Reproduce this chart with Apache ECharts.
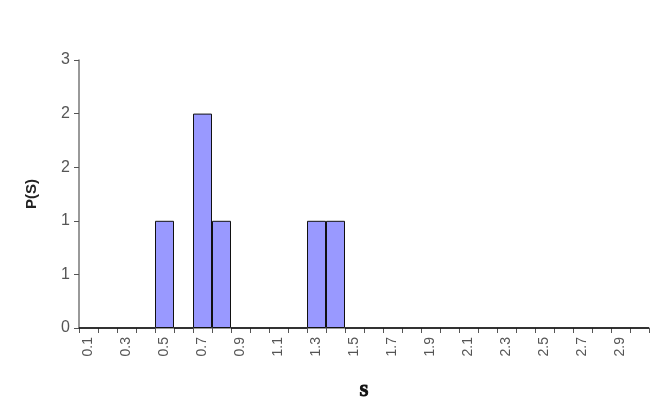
<!DOCTYPE html>
<html><head><meta charset="utf-8">
<script src="https://cdn.jsdelivr.net/npm/echarts@6/dist/echarts.min.js"></script>
<style>html,body{margin:0;padding:0;background:#fff}#c{width:664px;height:418px}</style>
</head><body><div id="c"></div>
<script>
var categories = ['0.1','0.2','0.3','0.4','0.5','0.6','0.7','0.8','0.9','1','1.1','1.2','1.3','1.4','1.5','1.6','1.7','1.8','1.9','2','2.1','2.2','2.3','2.4','2.5','2.6','2.7','2.8','2.9','3'];
var values = [0,0,0,0,1,0,2,1,0,0,0,0,1,1,0,0,0,0,0,0,0,0,0,0,0,0,0,0,0,0];
var chart = echarts.init(document.getElementById('c'));
chart.setOption({
  animation:false,
  backgroundColor:'#fff',
  grid:{left:79,top:60,right:15,bottom:90,containLabel:false},
  xAxis:{
    type:'category', data:categories, boundaryGap:true,
    name:'S', nameLocation:'middle', nameGap:56,
    nameTextStyle:{fontFamily:'Liberation Serif',fontWeight:'bold',fontSize:16,color:'#111',
      textBorderColor:'#111',textBorderWidth:1},
    axisLine:{lineStyle:{color:'#777',width:1.5}},
    axisTick:{show:true,interval:0,length:5,lineStyle:{color:'#555'}},
    axisLabel:{interval:1,rotate:90,fontFamily:'Liberation Sans',fontSize:14,color:'#555',margin:9,
      formatter:function(v){return (+v).toFixed(1);}}
  },
  yAxis:{
    type:'value', min:0, max:2.5, interval:0.5,
    name:'P(S)', nameLocation:'middle', nameGap:40,
    nameTextStyle:{fontFamily:'Liberation Sans',fontWeight:'bold',fontSize:15,color:'#222'},
    axisLine:{show:true,lineStyle:{color:'#777',width:1.5}},
    axisTick:{show:true,length:5,lineStyle:{color:'#555'}},
    splitLine:{show:false},
    axisLabel:{fontFamily:'Liberation Sans',fontSize:16,color:'#555',margin:9,
      formatter:function(v){return Math.round(v);}}
  },
  series:[{type:'bar',data:values,barCategoryGap:'0%',
    itemStyle:{color:'#9999ff',borderColor:'#111',borderWidth:1}}]
});
</script></body></html>
